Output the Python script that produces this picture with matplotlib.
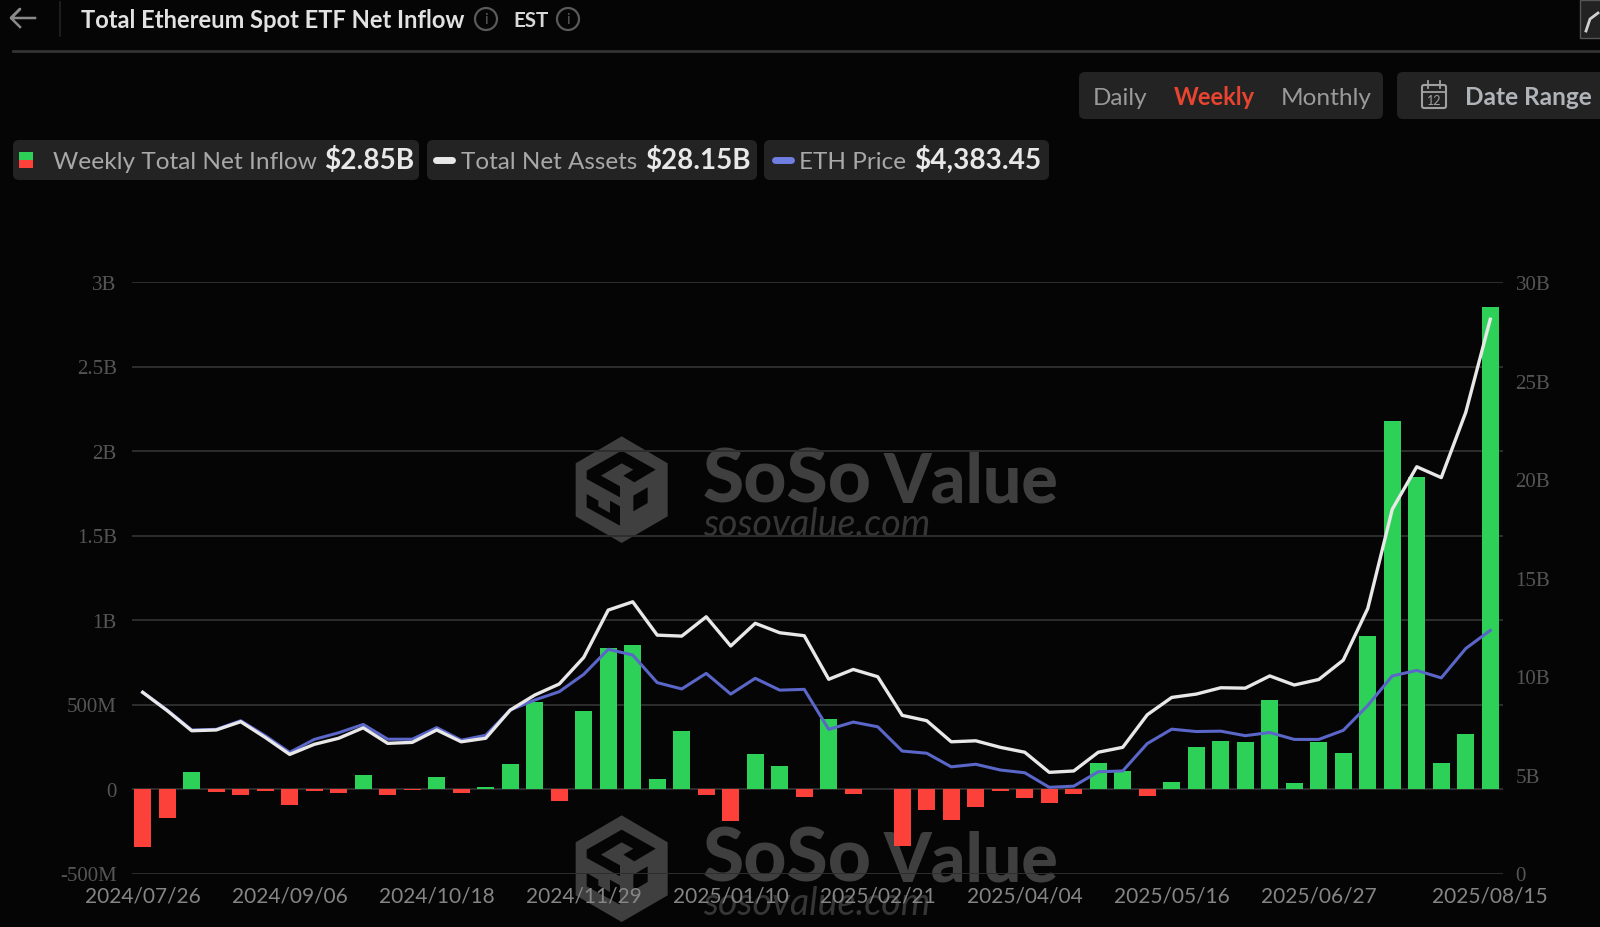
import matplotlib
matplotlib.use("Agg")
import matplotlib.pyplot as plt
from matplotlib.patches import FancyBboxPatch, Circle, Polygon, Rectangle

# ---------- data ----------
tick_dates = ["2024/07/26", "2024/09/06", "2024/10/18", "2024/11/29", "2025/01/10",
              "2025/02/21", "2025/04/04", "2025/05/16", "2025/06/27", "2025/08/15"]
tick_index = [0, 6, 12, 18, 24, 30, 36, 42, 48, 55]
left_ticks = [-0.5, 0, 0.5, 1, 1.5, 2, 2.5, 3]
left_labels = ["-500M", "0", "500M", "1B", "1.5B", "2B", "2.5B", "3B"]
right_ticks = [0, 5, 10, 15, 20, 25, 30]
right_labels = ["0", "5B", "10B", "15B", "20B", "25B", "30B"]

net_inflow = [-0.346, -0.172, 0.100, -0.015, -0.038, -0.010, -0.092, -0.010, -0.025, 0.081,
              -0.033, -0.006, 0.073, -0.025, 0.010, 0.150, 0.515, -0.070, 0.460, 0.836,
              0.852, 0.060, 0.346, -0.035, -0.190, 0.207, 0.134, -0.045, 0.417, -0.030,
              -0.002, -0.336, -0.122, -0.182, -0.107, -0.010, -0.055, -0.085, -0.030, 0.154,
              0.105, -0.040, 0.040, 0.247, 0.284, 0.281, 0.525, 0.037, 0.281, 0.215,
              0.907, 2.180, 1.846, 0.152, 0.323, 2.851]
total_assets = [9.19, 8.26, 7.24, 7.28, 7.70, 6.90, 6.04, 6.55, 6.86, 7.39,
                6.60, 6.65, 7.28, 6.68, 6.86, 8.29, 9.05, 9.61, 10.96, 13.36,
                13.78, 12.09, 12.04, 13.02, 11.54, 12.69, 12.21, 12.06, 9.85, 10.35,
                9.98, 8.02, 7.75, 6.68, 6.73, 6.40, 6.15, 5.13, 5.20, 6.15,
                6.40, 8.05, 8.93, 9.10, 9.42, 9.40, 10.02, 9.56, 9.84, 10.82,
                13.44, 18.47, 20.63, 20.08, 23.39, 28.11]
eth_price = [9.19, 8.29, 7.28, 7.31, 7.75, 6.99, 6.14, 6.80, 7.14, 7.56,
             6.81, 6.81, 7.40, 6.76, 7.01, 8.29, 8.80, 9.22, 10.10, 11.37,
             11.08, 9.68, 9.36, 10.15, 9.10, 9.90, 9.30, 9.34, 7.31, 7.68,
             7.44, 6.21, 6.10, 5.41, 5.54, 5.25, 5.11, 4.37, 4.43, 5.16,
             5.20, 6.59, 7.32, 7.20, 7.22, 6.99, 7.15, 6.80, 6.80, 7.26,
             8.52, 10.02, 10.30, 9.92, 11.41, 12.33]

# ---------- style ----------
BG = "#050505"
GREEN, RED, WHITE, BLUE = "#2ed158", "#fb4139", "#e8e8e8", "#5a66c8"
PILL = "#232323"
W, H = 1600, 928
UI = "Lato"

fig = plt.figure(figsize=(W / 100, H / 100), dpi=100, facecolor=BG)

# overlay in pixel coordinates for page furniture
ui = fig.add_axes([0, 0, 1, 1], zorder=0)
ui.set_xlim(0, W); ui.set_ylim(H, 0); ui.axis("off")


def pill(x0, y0, x1, y1, color=PILL):
    ui.add_patch(FancyBboxPatch((x0 + 5, y0 + 5), x1 - x0 - 10, y1 - y0 - 10,
                                boxstyle="round,pad=5,rounding_size=6",
                                fc=color, ec="none"))


def label(x, y, s, size, color, weight="normal", ha="left", family=UI):
    ui.text(x, y, s, fontsize=size, color=color, fontweight=weight, ha=ha,
            va="baseline", family=family)


def info(cx, cy):
    ui.add_patch(Circle((cx, cy), 11, fc="none", ec="#5a5a5a", lw=1.6))
    ui.text(cx, cy, "i", fontsize=11, color="#5a5a5a", ha="center", va="center", family=UI)


# header
ui.plot([35, 11, 20, 11, 20], [19, 19, 10, 19, 28], color="#8a8a8a", lw=1.8)
ui.plot([60, 60], [3, 37], color="#222222", lw=1.2)
label(81, 28, "Total Ethereum Spot ETF Net Inflow", 17.1, "#e2e2e2", "bold")
info(486, 20)
label(513, 27, "EST", 14.8, "#d8d8d8", "bold")
info(568, 20)
ui.plot([13, W], [52, 52], color="#333333", lw=2)
ui.add_patch(Rectangle((1580, 1), 24, 38, fc="#222222", ec="#555555", lw=1))
ui.plot([1586, 1590, 1598], [32, 20, 14], color="#d0d0d0", lw=2)

# range buttons
pill(1079, 73, 1383, 120)
pill(1397, 73, 1606, 120)
label(1093, 105, "Daily", 17.5, "#9a9a9a")
label(1174, 105, "Weekly", 17, "#e8442f", "bold")
label(1281, 105, "Monthly", 17.6, "#9a9a9a")
label(1465, 105, "Date Range", 17.6, "#b0b4b8", "bold")
ui.add_patch(FancyBboxPatch((1422, 86), 24, 23, boxstyle="round,pad=0,rounding_size=2",
                            fc="none", ec="#a0a0a0", lw=1.5))
ui.plot([1422, 1446], [93, 93], color="#a0a0a0", lw=1.3)
ui.plot([1428, 1428], [82, 89], color="#a0a0a0", lw=1.3)
ui.plot([1440, 1440], [82, 89], color="#a0a0a0", lw=1.3)
ui.text(1434, 101, "12", fontsize=9, color="#a0a0a0", ha="center", va="center", family=UI)

# legend pills
pill(13, 141, 419, 181)
pill(427, 141, 757, 181)
pill(764, 141, 1049, 181)
ui.add_patch(Rectangle((19, 153), 14, 8, fc=GREEN, ec="none"))
ui.add_patch(Rectangle((19, 161), 14, 8, fc=RED, ec="none"))
label(53, 169, "Weekly Total Net Inflow", 17.6, "#a8a8a8")
label(324, 169, "$2.85B", 20.2, "#e8e8e8", "bold")
ui.plot([436, 452], [161, 161], color="#e8e8e8", lw=5, solid_capstyle="round")
label(461, 169, "Total Net Assets", 17.5, "#a8a8a8")
label(645, 169, "$28.15B", 20, "#e8e8e8", "bold")
ui.plot([775, 791], [161, 161], color="#6f7ee0", lw=5, solid_capstyle="round")
label(799, 169, "ETH Price", 17.5, "#a8a8a8")
label(914, 169, "$4,383.45", 20.2, "#e8e8e8", "bold")


# watermarks
def logo_shape(points, dy):
    return [(565 + px / 3, 430 + py / 3 + dy) for px, py in points]


def watermark(dy):
    c = "#3f3f3f"
    hexagon = [(170, 22), (308, 103), (308, 262), (170, 342), (32, 262), (32, 103)]
    band = [(65, 125), (170, 65), (272, 122), (208, 160), (175, 140), (205, 122), (170, 103),
            (108, 140), (165, 172), (165, 205), (65, 150)]
    foot = [(65, 195), (100, 215), (100, 232), (135, 252), (135, 215), (165, 232),
            (165, 290), (65, 235)]
    face = [(205, 200), (248, 175), (248, 222), (205, 247)]
    ui.add_patch(Polygon(logo_shape(hexagon, dy), closed=True, fc=c, ec="none"))
    for shape in (band, foot, face):
        ui.add_patch(Polygon(logo_shape(shape, dy), closed=True, fc=BG, ec="none"))
    ui.text(703, 503 + dy, "SoSo", fontsize=54, fontweight="black", color=c,
            ha="left", va="baseline", family="Lato")
    ui.text(884, 503 + dy, "Value", fontsize=49, fontweight="black", color=c,
            ha="left", va="baseline", family="Lato")
    ui.text(703, 536 + dy, "sosovalue.com", fontsize=27, style="italic", color="#363636",
            ha="left", va="baseline", family="Lato")


watermark(0)
watermark(379)

# ---------- chart ----------
x = list(range(len(net_inflow)))
top_px, bottom_px, left_px, right_px = 283, 874.5, 132, 1503
pos = [left_px / W, 1 - bottom_px / H, (right_px - left_px) / W, (bottom_px - top_px) / H]
ax = fig.add_axes(pos, zorder=1)
ax.patch.set_alpha(0)
ax.set_xlim(-0.437, 55.52)
ax.set_ylim(-0.5, 3)
ax.bar(x, net_inflow, width=0.71, color=[GREEN if v >= 0 else RED for v in net_inflow], zorder=3)
ax.set_yticks(left_ticks)
ax.set_yticklabels(left_labels, family="Liberation Serif", fontsize=15, color="#555555")
ax.set_xticks(tick_index)
ax.set_xticklabels(tick_dates, family=UI, fontsize=15, color="#858585")
ax.tick_params(length=0)
ax.tick_params(axis="y", pad=11)
ax.tick_params(axis="x", pad=9)
ax.grid(axis="y", color="#2e2e2e", lw=1.4, zorder=1)
ax.grid(axis="x", visible=False)
for s in ax.spines.values():
    s.set_visible(False)

ax2 = ax.twinx()
ax2.set_zorder(2)
ax2.patch.set_alpha(0)
ax2.set_xlim(ax.get_xlim())
ax2.set_ylim(0, 30)
ax2.plot(x, eth_price, color=BLUE, lw=2.2, zorder=4)
ax2.plot(x, total_assets, color=WHITE, lw=2.4, zorder=5)
ax2.set_yticks(right_ticks)
ax2.set_yticklabels(right_labels, family="Liberation Serif", fontsize=15, color="#555555")
ax2.tick_params(length=0, pad=9)
for s in ax2.spines.values():
    s.set_visible(False)

fig.savefig("out.png", dpi=100, facecolor=BG)
